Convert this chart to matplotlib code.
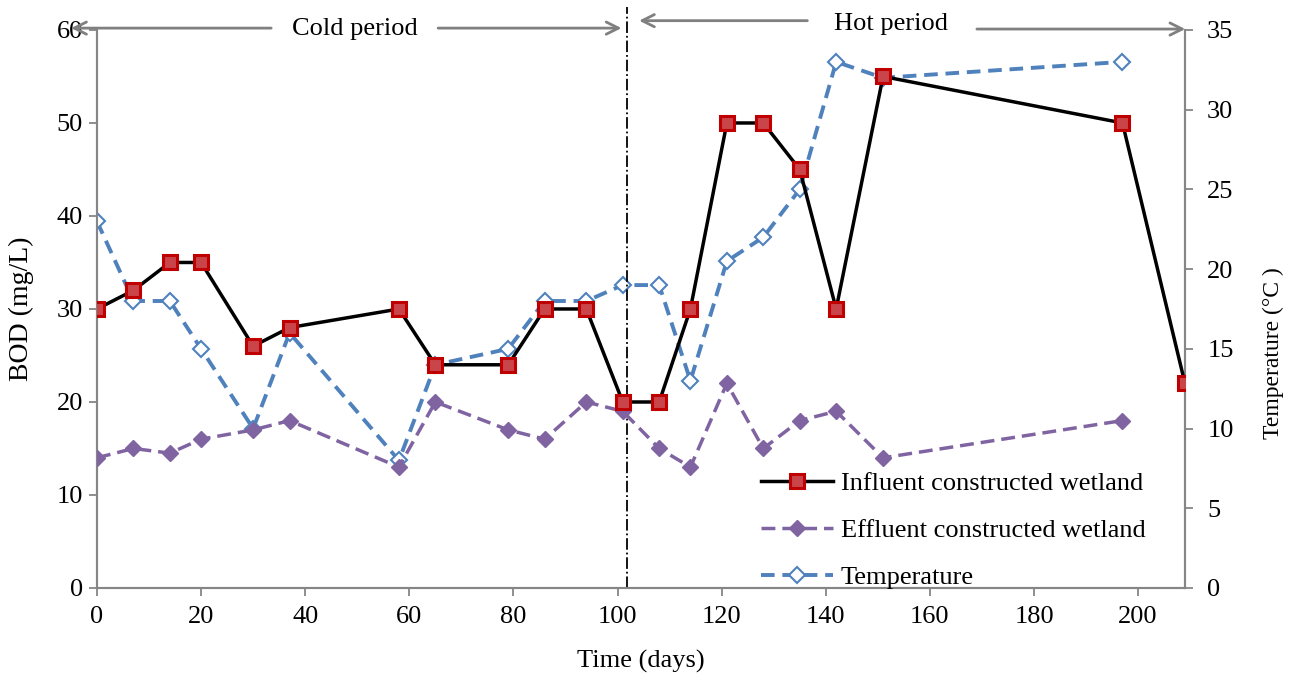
import numpy as np
import matplotlib.pyplot as plt

plt.rcParams['font.family'] = ['Liberation Serif', 'DejaVu Serif']
plt.rcParams['font.size'] = 19

# data
days = [0, 7, 14, 20, 30, 37, 58, 65, 79, 86, 94, 101, 108, 114, 121, 128, 135, 142, 151, 197, 209]
influent = [30, 32, 35, 35, 26, 28, 30, 24, 24, 30, 30, 20, 20, 30, 50, 50, 45, 30, 55, 50, 22]
effluent_days = days[:-1]
effluent = [14, 15, 14.5, 16, 17, 18, 13, 20, 17, 16, 20, 19, 15, 13, 22, 15, 18, 19, 14, 18]
temp_days = days[:-1]
temperature = [23, 18, 18, 15, 10, 16, 8, 14, 15, 18, 18, 19, 19, 13, 20.5, 22, 25, 33, 32, 33]

axis_grey = '#868686'

fig = plt.figure(figsize=(13, 6.75), dpi=100)
ax = fig.add_axes([0.0746, 0.1289, 0.9115 - 0.0746, 0.9556 - 0.1289])
ax2 = ax.twinx()

# main series
l1, = ax.plot(days, influent, color='black', lw=2.5, marker='s', markersize=9.5,
              markerfacecolor='#c9454a', markeredgecolor='#c00000', markeredgewidth=2.2,
              label='Influent constructed wetland', zorder=4)
l2, = ax.plot(effluent_days, effluent, color='#8064a2', lw=2.5, ls=(0, (4, 2)), marker='D',
              markersize=8.5, markerfacecolor='#8064a2', markeredgecolor='#8064a2',
              label='Effluent constructed wetland', zorder=3)
l3, = ax2.plot(temp_days, temperature, color='#4f81bd', lw=2.8, ls=(0, (3.5, 2)), marker='D',
               markersize=8.5, markerfacecolor='white', markeredgecolor='#4f81bd',
               markeredgewidth=1.5, label='Temperature', zorder=3)

ax.set_xlim(0, 209)
ax.set_ylim(0, 60)
ax2.set_ylim(0, 35)
ax.set_xticks(np.arange(0, 201, 20))
ax.set_yticks(np.arange(0, 61, 10))
ax2.set_yticks(np.arange(0, 36, 5))

for a in (ax, ax2):
    for s in a.spines.values():
        s.set_color(axis_grey)
        s.set_linewidth(1.5)
    a.spines['top'].set_visible(False)
    a.tick_params(direction='out', length=6, width=1.3, color=axis_grey, labelsize=19)
ax.tick_params(axis='x', pad=7)
ax.tick_params(axis='y', pad=4)
ax2.tick_params(axis='y', pad=10)

ax.set_xlabel('Time (days)', fontsize=19)
ax.xaxis.set_label_coords(0.5, -0.111)
ax.set_ylabel('BOD (mg/L)', fontsize=20)
ax.yaxis.set_label_coords(-0.058, 0.5)
ax2.set_ylabel('Temperature (\u00b0C )', fontsize=17)
ax2.yaxis.set_label_coords(1.0717, 0.42)

# boundary between periods
ax.plot([101.9, 101.9], [0, 62.5], color='black', lw=1.3, ls='-.', clip_on=False, zorder=2)

# period arrows
arrow_kw = dict(arrowstyle='->', color='#808080', lw=2, mutation_scale=22)
ax.annotate('', xy=(-5.5, 60.2), xytext=(34, 60.2), arrowprops=arrow_kw, annotation_clip=False)
ax.annotate('', xy=(101.3, 60.2), xytext=(65, 60.2), arrowprops=arrow_kw, annotation_clip=False)
ax.text(49.5, 60.1, 'Cold period', ha='center', va='center', fontsize=19)
ax.annotate('', xy=(103.6, 61.0), xytext=(137, 61.0), arrowprops=arrow_kw, annotation_clip=False)
ax.annotate('', xy=(209.6, 60.1), xytext=(168.5, 60.1), arrowprops=arrow_kw, annotation_clip=False)
ax.text(152.5, 60.6, 'Hot period', ha='center', va='center', fontsize=19)

ax.set_zorder(ax2.get_zorder() + 1)
ax.patch.set_visible(False)

ax.legend(handles=[l1, l2, l3], loc='upper left', bbox_to_anchor=(0.601, 0.228),
          frameon=False, fontsize=19, handlelength=2.7, handletextpad=0.3,
          labelspacing=0.9, borderaxespad=0)

fig.savefig('out.png', dpi=100)
